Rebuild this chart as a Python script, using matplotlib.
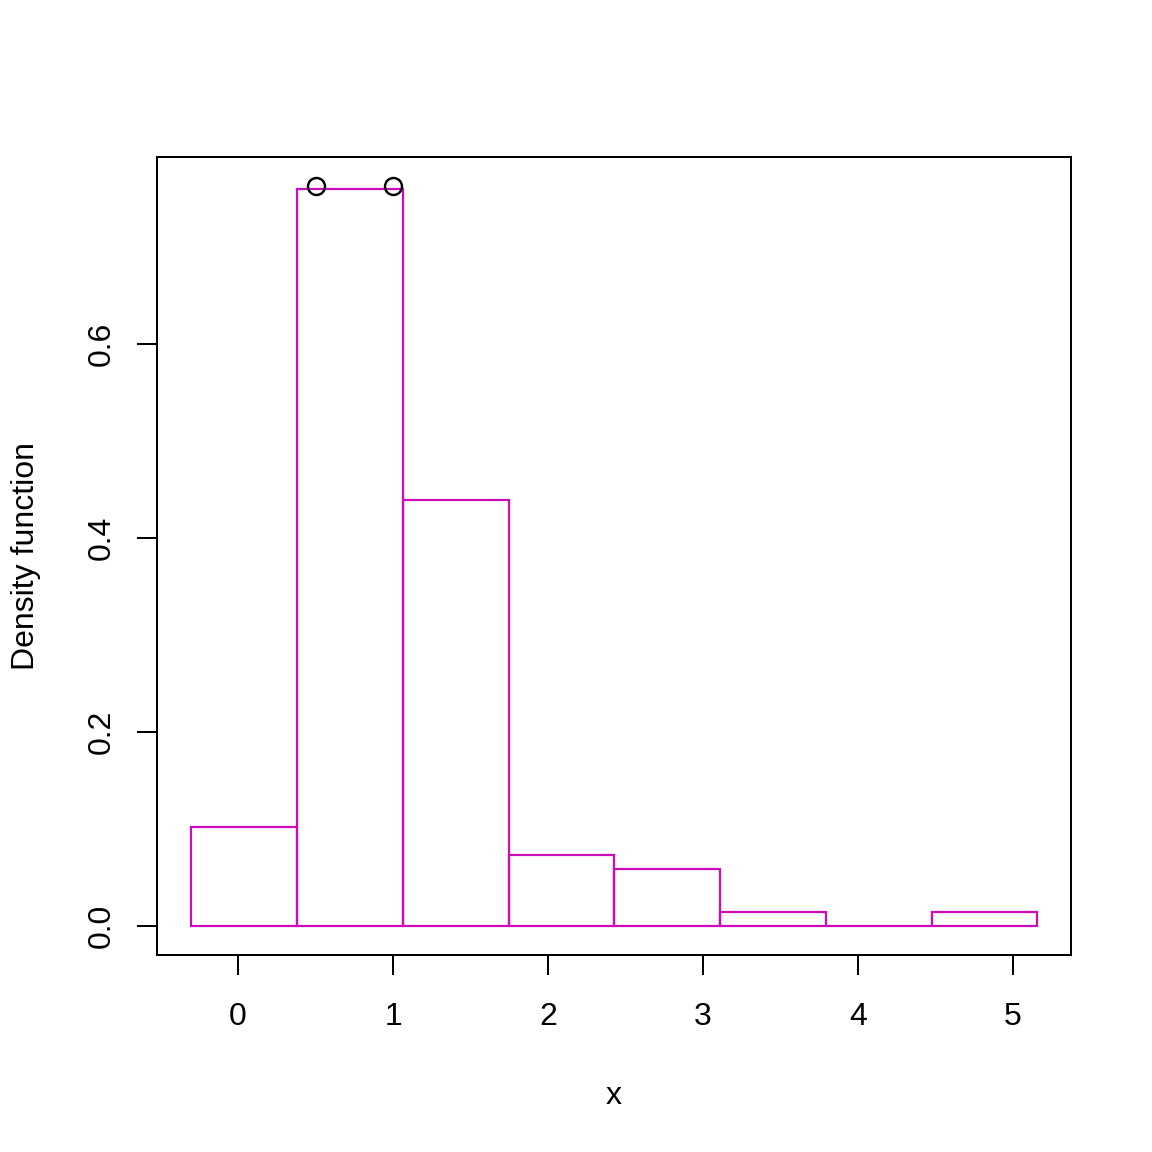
import matplotlib
matplotlib.use("Agg")
import matplotlib.pyplot as plt

# histogram bins and density heights
bin_edges = [-0.303, 0.381, 1.065, 1.748, 2.426, 3.110, 3.794, 4.477, 5.155]
density = [0.102, 0.760, 0.439, 0.0731, 0.0585, 0.0146, 0.0, 0.0146]

# the two open circles at the top of the tallest bar
pts_x = [0.503, 1.0]
pts_y = [0.763, 0.763]

xticks = [0, 1, 2, 3, 4, 5]
yticks = [0.0, 0.2, 0.4, 0.6]

plt.rcParams['font.family'] = ['Liberation Sans', 'DejaVu Sans']

fig = plt.figure(figsize=(8, 8), dpi=144)
ax = fig.add_axes([0.1363, 0.1710, 0.9297 - 0.1363, 0.8637 - 0.1710])

col = '#CD0BBC'
for i in range(len(density)):
    left = bin_edges[i]
    w = bin_edges[i + 1] - bin_edges[i]
    ax.bar(left, density[i], width=w, align='edge', fill=False,
           edgecolor=col, linewidth=1.1)

ax.plot(pts_x, pts_y, 'o', mfc='none', mec='black', ms=8.5, mew=1.2)

ax.set_xlim(-0.5226, 5.374)
ax.set_ylim(-0.0299, 0.7928)

ax.set_xticks(xticks)
ax.set_xticklabels([str(t) for t in xticks])
ax.set_yticks(yticks)
ax.set_yticklabels(['0.0', '0.2', '0.4', '0.6'], rotation=90, va='center')

ax.tick_params(direction='out', length=10, width=1.0, labelsize=16, pad=13.5)
ax.tick_params(axis='y', pad=10)
for s in ax.spines.values():
    s.set_linewidth(1.0)

ax.set_xlabel('x', fontsize=16, labelpad=24.5)
ax.set_ylabel('Density function', fontsize=16, labelpad=23)

fig.savefig('out.png', dpi=144)
